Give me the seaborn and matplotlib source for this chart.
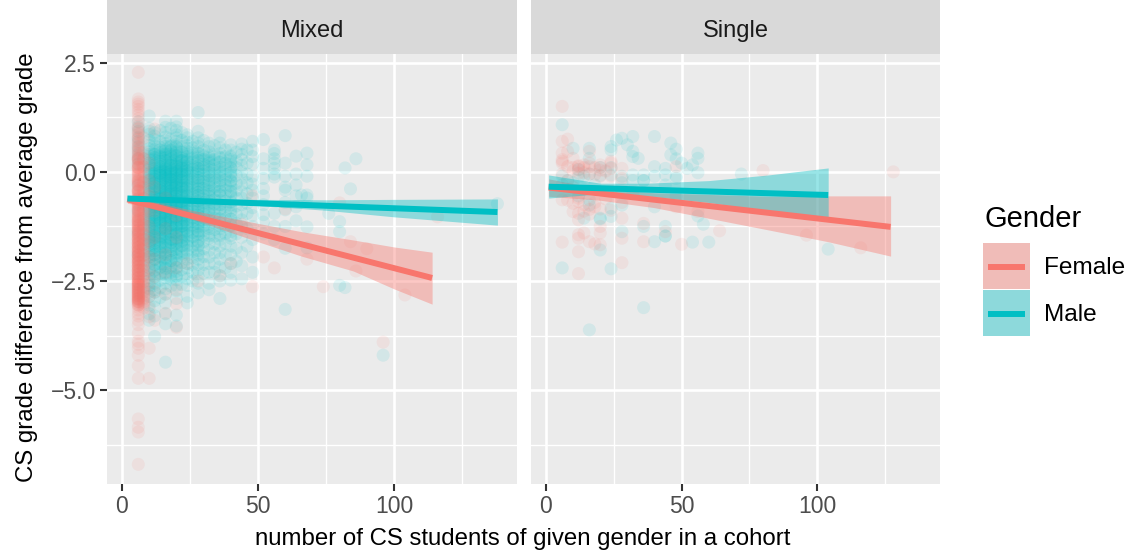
import matplotlib
matplotlib.use("Agg")
import matplotlib.pyplot as plt
from matplotlib.patches import Rectangle
from matplotlib.lines import Line2D
import pandas as pd
import seaborn as sns

# ---------- Mixed cohort, male, one list of grades per cohort size ----------
mm_06 = [1.15, 1.02, .93, .78, .7, .58, .5, .4, .3, .18, -.3, -.9, -1.4, -1.9]
mm_10 = [1.28, 1.0, .93, .86, .72, .61, .53, .46, .36, .27, .2, .11, .04, -.05, -.13, -.2, -.29, -.37, -.46, -.52, -.63, -.7, -.78,
         -.85, -.93, -1.02, -1.1, -1.16, -1.25, -1.33, -1.42, -1.5, -1.57, -1.66, -1.75, -1.84, -1.95, -2.06, -2.2, -2.35, -2.5, -2.68, -2.85, -3.05, -3.25, -3.4]
mm_10b = [.4, .31, .16, .07, -.02, -.09, -.17, -.25, -.33, -.41, -.49, -.58, -.66, -.74, -.82, -.89, -.98, -1.06, -1.13, -1.21, -1.29, -1.37, -1.46, -1.53, -1.62, -1.7, -1.8, -1.9, -2.0, -2.13, -2.27, -2.42, -2.6, -2.76]
mm_12 = [.9, .82, .74, .66, .6, .51, .45, .4, .33, .27, .21, .14, .1, .02, -.04, -.1, -.15, -.22, -.27, -.34, -.38, -.45, -.52, -.58, -.63,
         -.7, -.76, -.8, -.87, -.94, -1.0, -1.05, -1.12, -1.18, -1.24, -1.3, -1.37, -1.44, -1.5, -1.57, -1.65, -1.73, -1.81, -1.9, -2.0, -2.12, -2.25, -2.4, -2.55, -2.7, -2.95, -3.1, -3.3, -3.77]
mm_14 = [.95, .7, .56, .44, .36, .25, .18, .12, .05, -.02, -.08, -.16, -.24, -.3, -.37, -.43, -.5, -.56, -.61, -.68, -.75, -.82, -.88, -.96, -1.03, -1.1, -1.17, -1.24, -1.32, -1.4, -1.48, -1.56, -1.64, -1.73, -1.82, -1.93, -2.04, -2.18, -2.32, -2.48, -2.66, -2.88]
mm_16 = [1.16, 1.02, .9, .8, .72, .65, .58, .52, .47, .42, .36, .31, .26, .2, .16, .1, .05, .0, -.05, -.1, -.15, -.19, -.25, -.3, -.34, -.4, -.45,
         -.5, -.54, -.6, -.65, -.7, -.74, -.8, -.85, -.9, -.95, -1.0, -1.05, -1.1, -1.15, -1.2, -1.25, -1.3, -1.36, -1.42, -1.48, -1.55, -1.61, -1.68, -1.75, -1.83, -1.9,
         -1.98, -2.05, -2.14, -2.22, -2.32, -2.42, -2.55, -2.68, -2.8, -3.0, -3.25, -3.48, -4.36]
mm_16b = [.5, .4, .33, .24, .13, .07, .02, -.03, -.08, -.13, -.22, -.27, -.36, -.43, -.52, -.58, -.63, -.72, -.78, -.83, -.92, -.98, -1.03, -1.13, -1.18, -1.28, -1.34, -1.45, -1.52, -1.64, -1.72, -1.86, -1.95, -2.1, -2.2, -2.36]
mm_18 = [1.0, .76, .6, .5, .4, .3, .22, .15, .08, .01, -.06, -.12, -.18, -.26, -.32, -.38, -.44, -.52, -.59, -.66, -.72, -.79, -.86, -.93, -1.0, -1.08, -1.14, -1.22, -1.29, -1.37, -1.45, -1.54, -1.62, -1.71, -1.8, -1.92, -2.03, -2.16, -2.3, -2.46, -2.62]
mm_20 = [1.16, 1.03, .95, .85, .78, .7, .62, .56, .5, .44, .38, .33, .27, .22, .17, .12, .07, .02, -.03, -.08, -.13, -.18, -.23, -.28, -.32, -.37, -.42, -.47,
         -.52, -.57, -.62, -.67, -.72, -.77, -.82, -.87, -.92, -.97, -1.02, -1.07, -1.12, -1.17, -1.23, -1.28, -1.34, -1.4, -1.45, -1.52, -1.58, -1.64, -1.7, -1.78, -1.85,
         -1.92, -2.0, -2.1, -2.18, -2.28, -2.38, -2.47, -2.6, -2.72, -2.9, -3.28, -3.53]
mm_20b = [.58, .47, .36, .3, .2, .14, .05, .0, -.05, -.11, -.16, -.25, -.3, -.35, -.44, -.5, -.55, -.64, -.7, -.75, -.84, -.9, -.95, -1.04, -1.1, -1.2, -1.26, -1.37, -1.43, -1.55, -1.62, -1.75, -1.88, -2.03, -2.2, -2.4]
mm_22 = [.9, .72, .58, .46, .34, .26, .16, .09, .02, -.05, -.12, -.2, -.26, -.33, -.39, -.46, -.54, -.6, -.68, -.74, -.81, -.88, -.94, -1.02, -1.09, -1.17, -1.24, -1.32, -1.41, -1.5, -1.6, -1.7, -1.82, -1.95, -2.08, -2.24, -2.4, -2.58]
mm_24 = [.85, .78, .68, .6, .54, .47, .4, .35, .28, .22, .17, .11, .05, .0, -.06, -.11, -.17, -.22, -.28, -.34, -.4, -.45, -.51, -.57, -.63,
         -.68, -.74, -.8, -.85, -.91, -.97, -1.03, -1.09, -1.15, -1.21, -1.27, -1.33, -1.4, -1.47, -1.55, -1.62, -1.7, -1.8, -1.9, -2.0, -2.1, -2.2, -2.32, -2.45, -2.6, -2.85, -3.0]
mm_24b = [.44, .31, .25, .14, .08, .02, -.04, -.14, -.2, -.31, -.37, -.48, -.55, -.66, -.71, -.83, -.89, -.99, -1.06, -1.18, -1.24, -1.36, -1.44, -1.58, -1.68, -1.86]
mm_26 = [.7, .55, .42, .32, .22, .14, .06, -.02, -.09, -.16, -.24, -.31, -.38, -.46, -.53, -.6, -.67, -.74, -.82, -.9, -.98, -1.06, -1.14, -1.22, -1.3, -1.39, -1.48, -1.58, -1.7, -1.83, -1.97, -2.13, -2.3, -2.5]
mm_28 = [1.36, .93, .78, .66, .58, .48, .42, .35, .27, .2, .13, .07, .0, -.06, -.13, -.2, -.27, -.33, -.4, -.47, -.54, -.6, -.67, -.74,
         -.8, -.87, -.94, -1.0, -1.07, -1.14, -1.2, -1.27, -1.35, -1.42, -1.5, -1.6, -1.7, -1.8, -1.9, -2.0, -2.12, -2.25, -2.4, -2.55, -2.77]
mm_30 = [.72, .5, .38, .28, .18, .1, .02, -.06, -.15, -.23, -.3, -.38, -.46, -.54, -.62, -.7, -.78, -.87, -.96, -1.05, -1.14, -1.24, -1.34, -1.46, -1.6, -1.76, -1.94, -2.12, -2.32]
mm_32 = [.66, .58, .46, .38, .3, .26, .2, .13, .05, -.03, -.1, -.18, -.25, -.33, -.41, -.49, -.56, -.64, -.72, -.8, -.88, -.96, -1.04, -1.12, -1.2, -1.3, -1.4, -1.52, -1.65, -1.8, -1.95, -2.1, -2.3, -2.55, -2.7]
mm_32b = [.34, .23, .1, .0, -.08, -.2, -.3, -.44, -.52, -.68, -.76, -.9, -1.08, -1.24, -1.46]
mm_34 = [.6, .4, .28, .16, .06, -.04, -.14, -.24, -.34, -.44, -.54, -.64, -.74, -.84, -.95, -1.06, -1.18, -1.32, -1.47, -1.65, -1.85, -2.1, -2.3]
mm_36 = [.82, .66, .55, .42, .32, .22, .13, .05, -.05, -.14, -.24, -.34, -.44, -.54, -.65, -.75, -.85, -.96, -1.07, -1.18, -1.3, -1.42, -1.55, -1.7, -1.85, -2.0, -2.18, -2.38, -2.5, -2.9]
mm_38 = [.5, .35, .2, .08, -.06, -.18, -.3, -.42, -.55, -.68, -.8, -.94, -1.08, -1.24, -1.42, -1.64, -1.9, -2.2]
mm_40 = [.62, .5, .37, .28, .18, .08, -.02, -.12, -.22, -.33, -.45, -.57, -.7, -.82, -.95, -1.08, -1.22, -1.37, -1.52, -1.7, -1.9, -2.1, -2.3, -2.48]
mm_42 = [.45, .25, .1, -.08, -.26, -.42, -.6, -.78, -.98, -1.18, -1.42, -1.75, -2.05]
mm_44 = [.64, .52, .4, .28, .15, .0, -.15, -.3, -.45, -.6, -.75, -.93, -1.1, -1.25, -1.5, -1.85, -2.15, -2.45]
mm_46 = [.5, .2, -.05, -.25, -.5, -.72, -.95, -1.3, -1.7]
mm_48 = [.7, .5, .35, .18, -.1, -.28, -.42, -.6, -.82, -1.0, -1.25, -1.55, -1.95, -2.3]
mm_52 = [.74, .3, .08, -.15, -.38, -.55, -.75, -.98, -1.15, -1.42]
mm_56 = [.5, .42, .3, .2, .08, -.05, -.12, -.95, -1.25, -1.55]
mm_60 = [.83, .2, -.1, -.35, -.42, -.7, -.87, -1.25, -1.75, -3.15]
mm_64 = [.36, -.05, -.3, -.55, -.8, -1.12]
mm_68 = [.43, .16, -.1, -.53, -.6, -1.26, -1.74]
mm_far_x = [66, 76, 80, 80, 80, 82, 82, 84, 86, 96, 138]
mm_far_y = [-.53, -.95, -1.14, -1.37, -2.6, .09, -2.65, -.39, .3, -4.2, -.73]

# ---------- Mixed cohort, female ----------
mf_06 = [2.28, 1.67, 1.6, 1.55, 1.5, 1.43, 1.37, 1.3, 1.22, 1.14, 1.05, .98, .92, .85, .8, .74, .68, .62, .57, .52, .47, .42, .37, .33, .28, .24, .2, .15, .11, .06, .02,
         -.03, -.07, -.11, -.16, -.2, -.25, -.29, -.33, -.38, -.42, -.47, -.51, -.55, -.6, -.64, -.69, -.73, -.77, -.82, -.86, -.91, -.95, -.99, -1.04, -1.08, -1.13, -1.17, -1.21,
         -1.26, -1.3, -1.35, -1.39, -1.43, -1.48, -1.52, -1.57, -1.61, -1.65, -1.7, -1.74, -1.79, -1.83, -1.87, -1.92, -1.96, -2.01, -2.05, -2.09, -2.14, -2.18, -2.23, -2.27,
         -2.31, -2.36, -2.4, -2.44, -2.49, -2.53, -2.57, -2.6, -2.64, -2.68, -2.72, -2.75, -2.79, -2.83, -2.87, -2.9, -2.94, -2.98, -3.03, -3.1, -3.16, -3.24, -3.3, -3.4, -3.5,
         -3.7, -3.88, -3.95, -4.04, -4.2, -4.44, -4.73, -5.66, -5.85, -5.96, -6.7]
mf_06b = [1.0, .88, .76, .65, .55, .45, .35, .26, .17, .08, .0, -.05, -.13, -.18, -.27, -.31, -.4, -.45, -.53, -.58, -.67, -.71, -.8, -.84, -.93, -.97, -1.06, -1.1, -1.15, -1.19, -1.24, -1.28, -1.33, -1.37, -1.41, -1.46, -1.5,
          -1.55, -1.59, -1.63, -1.68, -1.72, -1.77, -1.81, -1.85, -1.9, -1.94, -1.99, -2.03, -2.07, -2.12, -2.16, -2.21, -2.25, -2.29, -2.34, -2.38, -2.42, -2.47, -2.51, -2.55, -2.59, -2.62, -2.66, -2.7, -2.74, -2.77, -2.81, -2.85, -2.89, -2.92, -2.96, -3.0]
mf_06c = [.3, .1, -.22, -.44, -.62, -.75, -.88, -1.02, -1.12, -1.23, -1.34, -1.44, -1.54, -1.64, -1.73, -1.82, -1.91, -2.0, -2.08, -2.17, -2.26, -2.35, -2.43, -2.52, -2.58, -2.65, -2.71, -2.78, -2.84, -2.91, -2.97, -3.05]
mf_08 = [.78, .45, .3, .12, .0, -.12, -.25, -.36, -.48, -.6, -.72, -.83, -.95, -1.07, -1.18, -1.3, -1.42, -1.55, -1.66, -1.78, -1.9, -2.02, -2.14, -2.26, -2.38, -2.5, -2.62, -2.75, -2.88, -3.0, -3.12]
mf_10 = [.2, -.2, -.55, -.9, -1.25, -1.6, -1.95, -2.25, -2.55, -2.85, -3.12, -3.32, -4.04, -4.73]
mf_12 = [.98, -.35, -.9, -1.5, -2.0, -2.4, -2.75, -3.4]
mf_16 = [-.6, -1.3, -1.9, -2.3, -2.8, -3.24]
mf_20 = [-1.0, -1.5, -2.2, -2.7, -3.02, -3.56]
mf_far_x = [24, 28, 36, 40, 44, 48, 48, 52, 56, 60, 68, 74, 80, 84, 86, 90, 96, 104, 116]
mf_far_y = [-2.1, -2.5, -2.38, -2.1, -1.2, -.55, -2.63, -1.95, -2.2, -.85, -2.0, -2.63, -.71, -1.6, -2.27, -1.76, -3.9, -2.82, -1.03]

# ---------- Single cohort ----------
sm_x = [6, 6, 6, 6, 8, 10, 10, 12, 12, 12, 14, 14, 14, 16, 16, 16, 16, 16, 16, 18, 20, 20, 20, 20, 20, 24, 24, 24, 24, 24, 24, 24, 26, 28, 28, 28, 28, 28, 30, 32, 32, 32, 32, 32,
        34, 36, 36, 36, 36, 36, 40, 40, 40, 40, 40, 44, 44, 44, 44, 44, 44, 46, 46, 48, 48, 48, 48, 48, 50, 52, 54, 54, 56, 56, 56, 56, 58, 60, 72, 104]
sm_y = [1.08, -.1, -.3, -2.2, -.2, .54, -.25, .05, -.12, -.55, -.1, -.4, -1.06, .54, .31, -.05, -.64, -.76, -3.62, -.3, .1, -.08, -1.06, -1.08, -1.79, .58, .5, .1, -.07, -.83, -1.02, -2.22, .73, .77, -.25, -.76,
        -1.37, -.1, .62, .81, .47, .35, -.07, -.2, .31, -.07, -.2, -1.25, -3.11, -.2, .81, .12, -.1, -.8, -1.6, .08, -.07, -.3, -1.25, -1.47, -1.47, .66, .39, .52, .3, -.1, -.15, -.55, .2, .08, .16, -1.61, .43, .31, -.02, -1.01, -1.2, -1.61, -.05, -1.77]
sf_x = [6, 6, 6, 6, 6, 6, 6, 6, 6, 8, 8, 8, 8, 10, 10, 10, 10, 12, 12, 12, 12, 12, 12, 12, 12, 12, 12, 14, 14, 14, 14, 16, 16, 16, 16, 16, 18, 18, 18, 20, 20, 20, 20, 20, 20, 20, 24, 24, 24, 24, 24,
        28, 28, 28, 28, 28, 28, 32, 36, 36, 44, 48, 48, 50, 56, 64, 80, 96, 116, 128, 10, 12, 14, 16, 18, 20, 22, 24, 8, 10, 12, 14, 16, 18, 22]
sf_y = [1.5, .7, .43, .28, .24, .2, -.05, -.64, -1.61, .75, .47, .12, -.2, .31, .1, -.35, -.91, .12, -.03, .06, -.6, -.95, -1.1, -1.44, -1.52, -1.83, -2.33, .16, -.02, -.75, -1.4, .47, .12, -.05, -.86, -1.6, .1, -.8, -1.65,
        .16, .04, -.1, -.85, -1.25, -1.4, -1.67, .24, .2, .08, -.45, -.88, .08, -.15, -.7, -1.06, -1.52, -2.08, -.5, -1.18, -1.6, -1.37, .12, -.8, -1.66, -.91, -1.35, .03, -1.45, -1.74, .0,
        .02, .14, .1, .2, -.06, .1, .02, -.1, -.65, -.72, -.68, -.9, -.97, -.7, -.62]

# ---------- Fitted trends and their confidence ribbons ----------
line_mm_x = [2, 138]
line_mm_y = [-.61, -.92]
line_mf_x = [2, 114]
line_mf_y = [-.63, -2.43]
line_sm_x = [1, 104]
line_sm_y = [-.34, -.53]
line_sf_x = [1, 127]
line_sf_y = [-.36, -1.26]
band_mm_x = [2, 25, 50, 75, 100, 138]
band_mm_lo = [-.67, -.69, -.77, -.88, -1.03, -1.22]
band_mm_hi = [-.55, -.61, -.63, -.64, -.63, -.62]
band_mf_x = [2, 6, 25, 50, 66, 85, 100, 114]
band_mf_lo = [-.72, -.76, -1.07, -1.6, -1.93, -2.27, -2.68, -3.03]
band_mf_hi = [-.54, -.6, -.87, -1.18, -1.37, -1.56, -1.72, -1.84]
band_sm_x = [1, 20, 37, 60, 82, 104]
band_sm_lo = [-.6, -.5, -.55, -.7, -.9, -1.12]
band_sm_hi = [-.07, -.26, -.26, -.2, -.07, .09]
band_sf_x = [1, 20, 40, 82, 104, 127]
band_sf_lo = [-.56, -.65, -.82, -1.33, -1.6, -1.93]
band_sf_hi = [-.16, -.39, -.48, -.56, -.55, -.55]

panels = ["Mixed", "Single"]
genders = ["Male", "Female"]
tick_x = [0, 50, 100]
tick_y = [2.5, 0, -2.5, -5]
tick_y_labels = ["2.5", "0.0", "\u22122.5", "\u22125.0"]
minor_x = [25, 75, 125]
minor_y = [1.25, -1.25, -3.75, -6.25]
palette = {"Female": "#F8766D", "Male": "#00BFC4"}

rows = []
for x, ys in [(6, mm_06), (10, mm_10), (10, mm_10b), (12, mm_12), (12, mm_10b), (14, mm_14), (14, mm_16b), (16, mm_16), (16, mm_16b), (18, mm_18), (18, mm_20b), (20, mm_20), (20, mm_20b),
              (22, mm_22), (22, mm_24b), (24, mm_24), (24, mm_24b), (26, mm_26), (28, mm_28), (28, mm_24b), (30, mm_30), (32, mm_32), (32, mm_32b), (34, mm_34), (36, mm_36), (36, mm_32b), (38, mm_38),
              (40, mm_40), (40, mm_32b), (42, mm_42), (44, mm_44), (46, mm_46), (48, mm_48), (52, mm_52), (56, mm_56), (60, mm_60), (64, mm_64), (68, mm_68)]:
    rows += [("Mixed", "Male", x, y) for y in ys]
rows += [("Mixed", "Male", x, y) for x, y in zip(mm_far_x, mm_far_y)]
for x, ys in [(6, mf_06), (6, mf_06b), (6, mf_06c), (6, mf_06c), (8, mf_08), (8, mf_06c), (10, mf_10), (12, mf_12), (16, mf_16), (20, mf_20)]:
    rows += [("Mixed", "Female", x, y) for y in ys]
rows += [("Mixed", "Female", x, y) for x, y in zip(mf_far_x, mf_far_y)]
rows += [("Single", "Male", x, y) for x, y in zip(sm_x, sm_y)]
rows += [("Single", "Female", x, y) for x, y in zip(sf_x, sf_y)]
df = pd.DataFrame(rows, columns=["cohort", "Gender", "n", "grade"])

W, H = 1136, 553
plt.rcParams["font.family"] = ["Liberation Sans", "DejaVu Sans"]
sns.set_style({"axes.facecolor": "#EBEBEB", "axes.edgecolor": "none", "font.family": ["Liberation Sans", "DejaVu Sans"]})

g = sns.FacetGrid(df, col="cohort", col_order=panels, hue="Gender", hue_order=genders, palette=palette,
                  sharex=True, sharey=True, height=5.53, aspect=1.0, despine=False)
g.map_dataframe(sns.scatterplot, x="n", y="grade", s=88, alpha=0.1, edgecolor="none", linewidth=0, zorder=2)
fig = g.figure
fig.set_size_inches(W / 100, H / 100)
fig.set_dpi(100)


def box(l, t, r, b):
    return [l / W, 1 - b / H, (r - l) / W, (b - t) / H]


fits = {
    "Mixed": [("Female", line_mf_x, line_mf_y, band_mf_x, band_mf_lo, band_mf_hi), ("Male", line_mm_x, line_mm_y, band_mm_x, band_mm_lo, band_mm_hi)],
    "Single": [("Female", line_sf_x, line_sf_y, band_sf_x, band_sf_lo, band_sf_hi), ("Male", line_sm_x, line_sm_y, band_sm_x, band_sm_lo, band_sm_hi)],
}
for ax, name, rect in zip(g.axes.flat, panels, [(107, 54, 517, 484), (531, 54, 940, 484)]):
    ax.set_position(box(*rect))
    ax.set_xlim(-5.5, 145.2)
    ax.set_ylim(-7.15, 2.7)
    ax.set_title("")
    ax.grid(False)
    for s in ax.spines.values():
        s.set_visible(False)
    for v in tick_x:
        ax.axvline(v, color="white", lw=1.9, zorder=1)
    for v in tick_y:
        ax.axhline(v, color="white", lw=1.9, zorder=1)
    for v in minor_x:
        ax.axvline(v, color="white", lw=1.0, zorder=1)
    for v in minor_y:
        ax.axhline(v, color="white", lw=1.0, zorder=1)
    ax.set_xticks(tick_x)
    ax.set_xticklabels([str(v) for v in tick_x])
    ax.tick_params(axis="x", bottom=True, length=5, width=1.5, color="#333333", labelcolor="#4D4D4D", labelsize=16.5, pad=3)
    ax.set_yticks(tick_y)
    if name == "Mixed":
        ax.set_yticklabels(tick_y_labels)
        ax.tick_params(axis="y", left=True, length=5, width=1.5, color="#333333", labelcolor="#4D4D4D", labelsize=16.5, pad=3)
    else:
        ax.tick_params(axis="y", left=False, labelleft=False)
    for gender, lx, ly, bx, lo, hi in fits[name]:
        ax.fill_between(bx, lo, hi, color=palette[gender], alpha=0.4, lw=0, zorder=3)
        sns.lineplot(x=lx, y=ly, color=palette[gender], lw=4.3, ax=ax, zorder=4, estimator=None, sort=False,
                     solid_capstyle="butt", legend=False)
    ax.set_xlabel("")
    ax.set_ylabel("")
    ax.add_patch(Rectangle((0, 1), 1, 54 / 430, transform=ax.transAxes, facecolor="#D9D9D9", edgecolor="none", clip_on=False))
    ax.text(0.5, 1 + 23 / 430, name, transform=ax.transAxes, ha="center", va="center", fontsize=17, color="#1A1A1A")

fig.text(523 / W, 1 - 539 / H, "number of CS students of given gender in a cohort", ha="center", va="center", fontsize=17.3, color="black")
fig.text(27 / W, 1 - 267 / H, "CS grade difference from average grade", ha="center", va="center", rotation=90, fontsize=17.3, color="black")

# legend
fig.text(984 / W, 1 - 219 / H, "Gender", ha="left", va="center", fontsize=21, color="black")
for name, top, cy in [("Female", 243, 268), ("Male", 290, 315)]:
    col = palette[name]
    fig.add_artist(Rectangle((983 / W, 1 - (top + 46) / H), 47 / W, 46 / H, transform=fig.transFigure, facecolor="#EBEBEB", edgecolor="none"))
    fig.add_artist(Rectangle((983 / W, 1 - (top + 46) / H), 47 / W, 46 / H, transform=fig.transFigure, facecolor=col, alpha=0.4, edgecolor="none"))
    fig.add_artist(Line2D([988 / W, 1025 / W], [1 - (top + 24) / H] * 2, transform=fig.transFigure, color=col, lw=4.3, solid_capstyle="butt"))
    fig.text(1044 / W, 1 - cy / H, name, ha="left", va="center", fontsize=17.6, color="black")

fig.savefig("out.png", dpi=100)
